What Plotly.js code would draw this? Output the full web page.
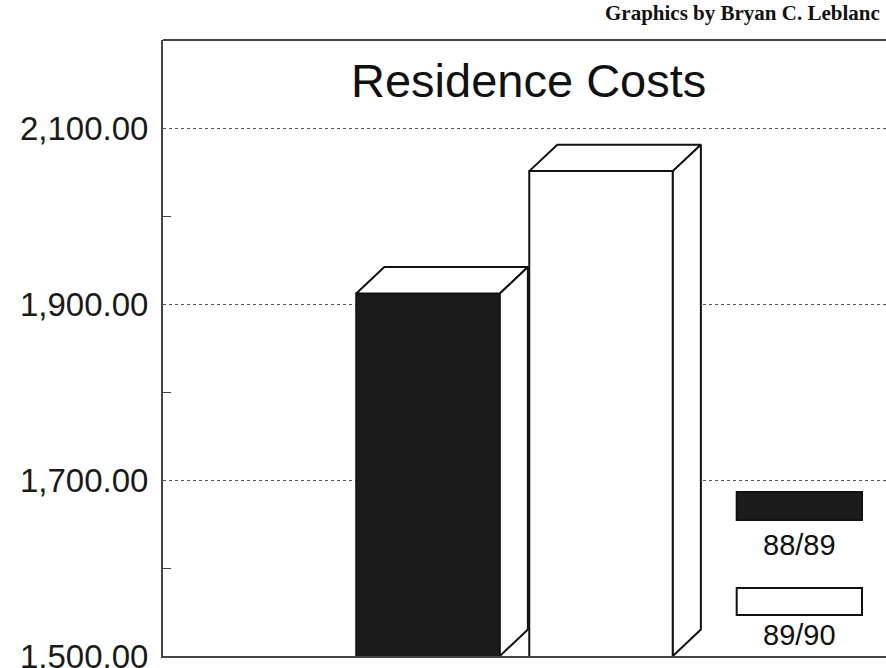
<!DOCTYPE html>
<html>
<head>
<meta charset="utf-8">
<script src="https://cdn.plot.ly/plotly-3.0.1.min.js"></script>
<style>html,body{margin:0;padding:0;background:#fff;}#chart{width:886px;height:668px;}</style>
</head>
<body>
<div id="chart"></div>
<script>
// ---- data ----
var seasons = ['88/89', '89/90'];
var costs = [1912, 2051];
var seasonColors = ['#1c1c1c', '#ffffff'];
var chartTitle = 'Residence Costs';
var creditText = 'Graphics by Bryan C. Leblanc';

// ---- drawing ----
var yMin = 1500, yMax = 2200;
var barW = 0.83;      // bar width in x units
var depthX = 0.162;   // 3D depth offset (x units)
var depthY = 30;      // 3D depth offset (y units)
var edge = {color: '#111', width: 2};

var traces = [];
seasons.forEach(function (s, i) {
  traces.push({
    type: 'bar', x: [i], y: [costs[i]], width: barW, name: s,
    marker: {color: seasonColors[i], line: edge},
    hoverinfo: 'skip', showlegend: false
  });
});
seasons.forEach(function (s, i) {
  var x0 = i - barW / 2, x1 = i + barW / 2, v = costs[i];
  // top face
  traces.push({
    type: 'scatter', mode: 'lines', fill: 'toself', fillcolor: '#ffffff',
    x: [x0, x0 + depthX, x1 + depthX, x1, x0],
    y: [v, v + depthY, v + depthY, v, v],
    line: edge, hoverinfo: 'skip', showlegend: false
  });
  // side face
  traces.push({
    type: 'scatter', mode: 'lines', fill: 'toself', fillcolor: '#ffffff',
    x: [x1, x1 + depthX, x1 + depthX, x1, x1],
    y: [v, v + depthY, yMin + depthY, yMin, v],
    line: edge, hoverinfo: 'skip', showlegend: false
  });
});

// custom legend: swatch above label
var shapes = [
  {type: 'line', xref: 'paper', yref: 'paper', x0: 0, x1: 1.01, y0: 1, y1: 1,
   line: {color: '#444', width: 2}}
];
var annotations = [
  {text: chartTitle, xref: 'paper', yref: 'paper', x: 0.505, y: 0.935,
   xanchor: 'center', yanchor: 'middle', showarrow: false,
   font: {family: 'Liberation Sans, Arial, sans-serif', size: 47, color: '#111'}},
  {text: '<b>' + creditText + '</b>', xref: 'paper', yref: 'paper', x: 0.995, y: 1.044,
   xanchor: 'right', yanchor: 'middle', showarrow: false,
   font: {family: 'Liberation Serif, Times New Roman, serif', size: 21, color: '#111'}}
];
var legY = [[0.2208, 0.2662, 0.180], [0.0666, 0.1104, 0.034]];
seasons.forEach(function (s, i) {
  shapes.push({type: 'rect', xref: 'paper', yref: 'paper',
    x0: 0.7935, x1: 0.9668, y0: legY[i][0], y1: legY[i][1],
    fillcolor: seasonColors[i], line: {color: '#111', width: 2}});
  annotations.push({text: s, xref: 'paper', yref: 'paper', x: 0.88, y: legY[i][2],
    xanchor: 'center', yanchor: 'middle', showarrow: false,
    font: {family: 'Liberation Sans, Arial, sans-serif', size: 29, color: '#111'}});
});

var layout = {
  width: 886, height: 668,
  margin: {l: 163, r: 0, t: 40, b: 12, pad: 0},
  paper_bgcolor: '#ffffff', plot_bgcolor: '#ffffff',
  showlegend: false, barmode: 'overlay',
  xaxis: {range: [-1.532, 2.647], showgrid: false, zeroline: false,
          showticklabels: false, ticks: '', showline: true,
          linecolor: '#444', linewidth: 2, fixedrange: true},
  yaxis: {range: [yMin, yMax], tick0: 1500, dtick: 200, tickformat: ',.2f',
          showgrid: true, gridcolor: '#555', griddash: 'dot', gridwidth: 1,
          zeroline: false, ticks: '', showline: true, linecolor: '#444', linewidth: 2,
          ticklabelstandoff: 6, ticklabeloverflow: 'allow',
          tickfont: {family: 'Liberation Sans, Arial, sans-serif', size: 33, color: '#1a1a1a'},
          minor: {dtick: 100, ticks: 'inside', ticklen: 8, tickcolor: '#444', tickwidth: 1, showgrid: false},
          fixedrange: true},
  shapes: shapes,
  annotations: annotations
};

Plotly.newPlot('chart', traces, layout, {staticPlot: true, displayModeBar: false});
</script>
</body>
</html>
